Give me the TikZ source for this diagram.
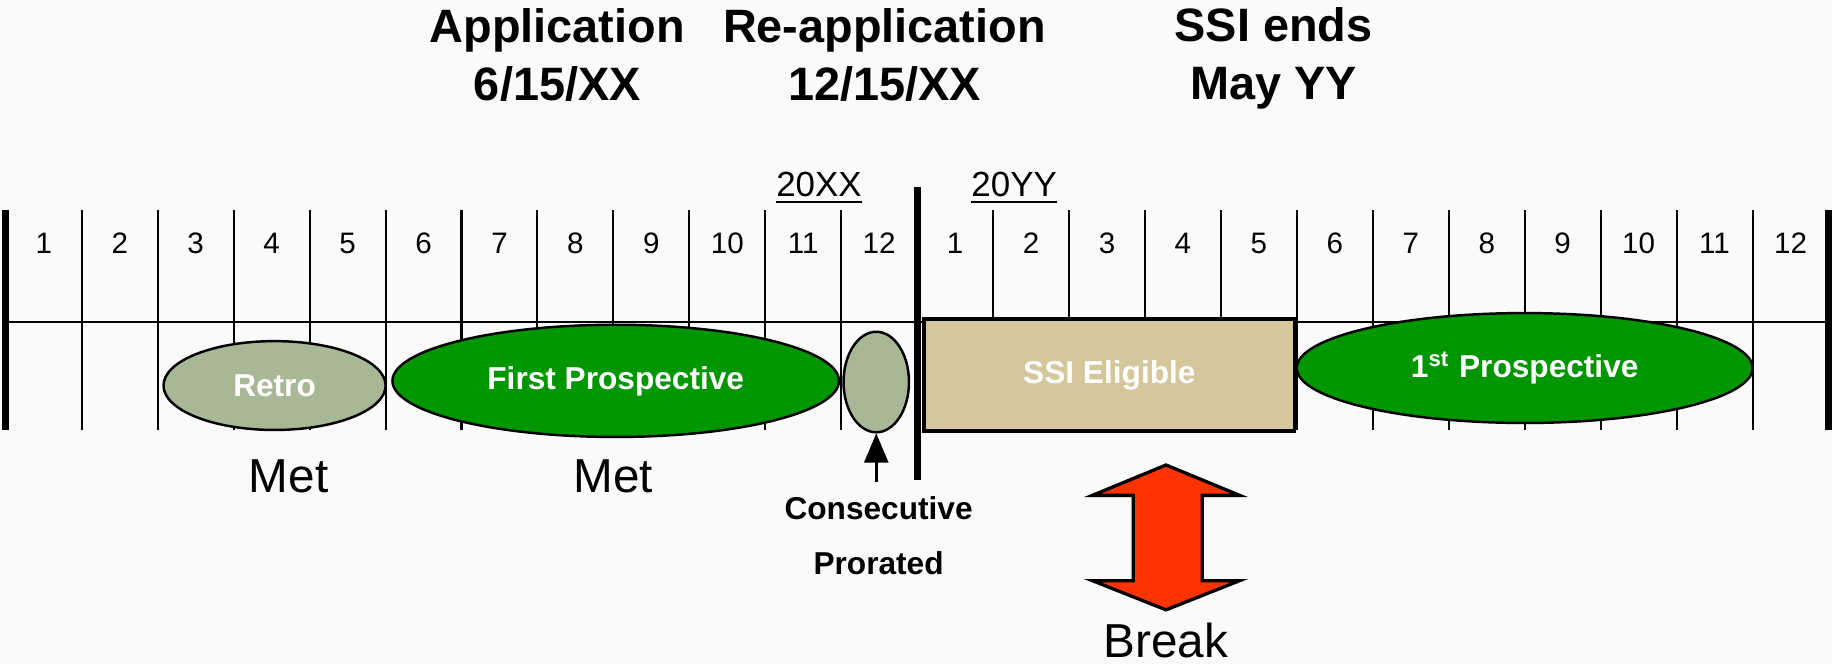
\documentclass[tikz,border=0pt]{standalone}
\usepackage{fontspec}
\setmainfont{Liberation Sans}
\usepackage{tikz}
\usetikzlibrary{arrows}
\usetikzlibrary{shapes.geometric}
\usetikzlibrary{positioning}

\definecolor{sage}{RGB}{168,184,150}
\definecolor{prosgreen}{RGB}{0,150,0}
\definecolor{eligtan}{RGB}{211,199,155}
\definecolor{breakred}{RGB}{255,51,0}
\definecolor{paper}{RGB}{250,250,250}

\begin{document}
\begin{tikzpicture}[x=0.01cm, y=-0.01cm, month/.style={font=\fontsize{7.2}{8}\selectfont}, year/.style={font=\fontsize{8.5}{10}\selectfont}, tick/.style={line width=0.5pt}, bar/.style={line width=1.7pt}, period/.style={ellipse, draw, line width=0.6pt, inner sep=0pt, text=white, font=\fontsize{7.7}{9}\selectfont\bfseries}, title/.style={align=center, font=\fontsize{11.4}{14.2}\selectfont\bfseries}, met/.style={font=\fontsize{11.6}{14}\selectfont}, note/.style={font=\fontsize{7.7}{9}\selectfont\bfseries}, arrow/.style={line width=0.6pt, ->, >=triangle 45}]
\fill [paper] (0,0) rectangle (1568,568);
\useasboundingbox (0,0) rectangle (1568,568);
% titles
\node [title] (app) at (477,47) {Application\\6/15/XX};
\node [title] (reapp) at (757,47) {Re-application\\12/15/XX};
\node [title] (ends) at (1090,50) {SSI ends\\May YY};
% years
\node [year] (yxx) at (701,161) {\underline{20XX}};
\node [year] (yyy) at (868,161) {\underline{20YY}};
% months
\draw [tick] (5,276) -- (1565,276);
\foreach \i in {1,...,23}
  \draw [tick] (5+65*\i,180) -- (5+65*\i,368);
\foreach \i in {1,...,24} {
  \pgfmathtruncatemacro\m{mod(\i-1,12)+1}
  \node [month] (m\i) at (5+65*\i-32.5,208) {\m};
}
\draw [bar] (5,180) -- (5,368);
\draw [bar] (1565,180) -- (1565,368);
\draw [bar] (785,160) -- (785,411);
% periods
\node [period, fill=sage, minimum width=1.9cm, minimum height=0.76cm] (retro) at (235,330) {Retro};
\node [period, fill=prosgreen, minimum width=3.82cm, minimum height=0.96cm] (first) at (527,326) {First Prospective};
\node [period, fill=sage, minimum width=0.56cm, minimum height=0.86cm] (cons) at (750,327) {};
\node [draw, line width=0.8pt, fill=eligtan, minimum width=3.17cm, minimum height=0.96cm, text=white, font=\fontsize{7.7}{9}\selectfont\bfseries] (elig) at (949.5,321) {SSI Eligible};
\node [period, fill=prosgreen, minimum width=3.9cm, minimum height=0.94cm] (next) at (1305,315) {1\textsuperscript{st} Prospective};
% labels below
\node [met] (met1) at (247,408) {Met};
\node [met] (met2) at (525,408) {Met};
\node [note] (consec) at (752,435) {Consecutive};
\node [note] (prorated) at (752,482) {Prorated};
\draw [arrow] (consec.north -| cons.south) -- (cons.south);
\draw [line width=0.8pt, fill=breakred] (998,398) -- (1061,424) -- (1029,424) -- (1029,497) -- (1061,497) -- (998,522) -- (935,497) -- (970,497) -- (970,424) -- (935,424) -- cycle;
\node [met] (brk) at (998,548) {Break};
\end{tikzpicture}
\end{document}
